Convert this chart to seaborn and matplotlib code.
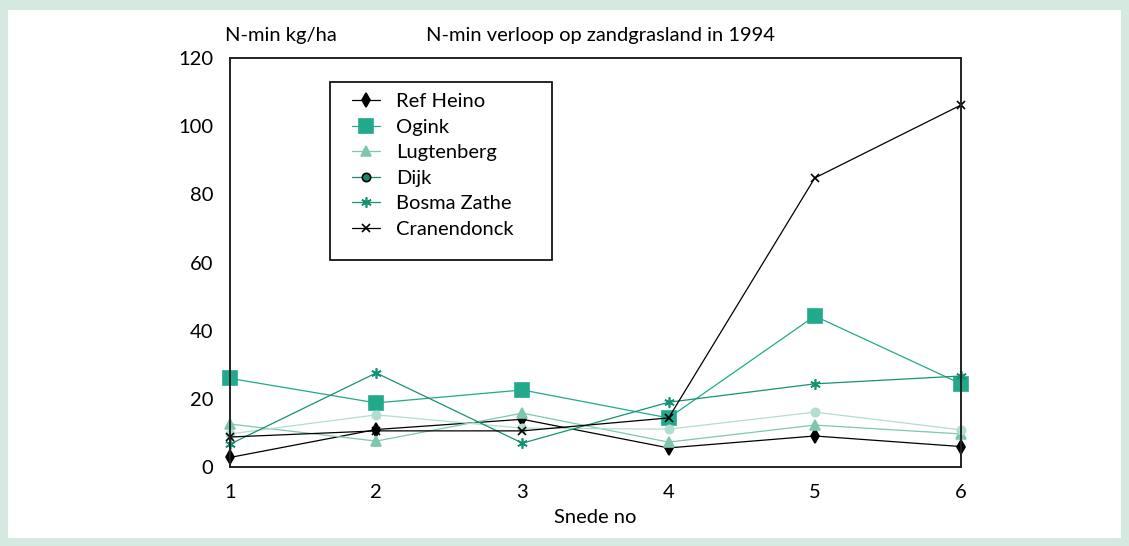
import matplotlib
matplotlib.use("Agg")
import matplotlib.pyplot as plt
import seaborn as sns
import pandas as pd
from matplotlib.patches import Rectangle

snede = [1, 2, 3, 4, 5, 6]
ref_heino = [2.8, 11.0, 14.0, 5.6, 9.1, 6.0]
ogink = [26.0, 18.8, 22.6, 14.4, 44.3, 24.4]
lugtenberg = [12.6, 7.6, 15.8, 7.3, 12.3, 9.7]
dijk = [9.7, 15.3, 11.4, 11.1, 16.1, 10.9]
bosma_zathe = [6.7, 27.6, 7.0, 19.0, 24.4, 26.7]
cranendonck = [8.8, 10.6, 10.6, 14.4, 84.8, 106.2]

series_names = ["Ref Heino", "Ogink", "Lugtenberg", "Dijk", "Bosma Zathe", "Cranendonck"]
series_values = [ref_heino, ogink, lugtenberg, dijk, bosma_zathe, cranendonck]
yticks = [0, 20, 40, 60, 80, 100, 120]

styles = {
    "Ref Heino": dict(color="black", marker="d", ms=7),
    "Ogink": dict(color="#22a98b", marker="s", ms=10.5),
    "Lugtenberg": dict(color="#7fc6b0", marker="^", ms=7),
    "Dijk": dict(color="#b3ddcf", marker="o", ms=6),
    "Bosma Zathe": dict(color="#159274", marker=(6, 2, 0), ms=7.5),
    "Cranendonck": dict(color="black", marker="x", ms=5.5),
}

FS = 14.5
sns.set_style("white")
plt.rcParams["font.family"] = ["Lato", "DejaVu Sans"]
plt.rcParams["text.color"] = "black"
plt.rcParams["xtick.color"] = "black"
plt.rcParams["ytick.color"] = "black"
plt.rcParams["axes.labelcolor"] = "black"

fig = plt.figure(figsize=(11.29, 5.46), dpi=100)
fig.patch.set_facecolor("#d5e9e1")
bg = Rectangle((8 / 1129, 1 - 538 / 546), (1121 - 8) / 1129, (538 - 10) / 546,
               transform=fig.transFigure, facecolor="white", edgecolor="none", zorder=-10)
fig.add_artist(bg)

ax = fig.add_axes([230 / 1129, 1 - 467 / 546, (961 - 230) / 1129, (467 - 58) / 546])
ax.set_zorder(5)
ax.set_facecolor("white")

for name, vals in zip(series_names, series_values):
    st = styles[name]
    df = pd.DataFrame({"Snede": snede, "N": vals})
    sns.lineplot(data=df, x="Snede", y="N", ax=ax, color=st["color"], marker=st["marker"],
                 markersize=st["ms"], markeredgecolor=st["color"], markeredgewidth=1.2,
                 linewidth=0.9, label=name, clip_on=False)

ax.set_xlim(1, 6)
ax.set_ylim(0, 120)
ax.set_xticks(snede)
ax.set_yticks(yticks)
ax.tick_params(axis="y", labelsize=FS, direction="out", length=7, width=1.2, pad=5)
ax.tick_params(axis="x", labelsize=FS, direction="inout", length=12, width=1.2, pad=6)
for sp in ax.spines.values():
    sp.set_color("#222222")
    sp.set_linewidth(1.4)
ax.set_xlabel("Snede no", fontsize=FS, labelpad=6)
ax.set_ylabel("")
fig.text(225 / 1129, 1 - 36 / 546, "N-min kg/ha", fontsize=FS, va="center", ha="left")
fig.text(600 / 1129, 1 - 36 / 546, "N-min verloop op zandgrasland in 1994", fontsize=FS,
         va="center", ha="center")


def axc(px, py):
    return ((px - 230) / 731, (467 - py) / 409)


x0, y0 = axc(330, 260)
x1, y1 = axc(552, 82)
box = Rectangle((x0, y0), x1 - x0, y1 - y0, transform=ax.transAxes, facecolor="white",
                edgecolor="black", linewidth=1.2, zorder=6)
ax.add_patch(box)

leg = ax.legend(loc="upper left", bbox_to_anchor=axc(352, 93),
                frameon=False, fontsize=FS, handlelength=1.4,
                labelspacing=0.42, borderpad=0, handletextpad=0.8, borderaxespad=0)
leg.set_zorder(7)
h = leg.legend_handles[3]
h.set_color("#158a6c")
h.set_markerfacecolor("#158a6c")
h.set_markeredgecolor("black")

fig.savefig("out.png", dpi=100, facecolor=fig.get_facecolor())
